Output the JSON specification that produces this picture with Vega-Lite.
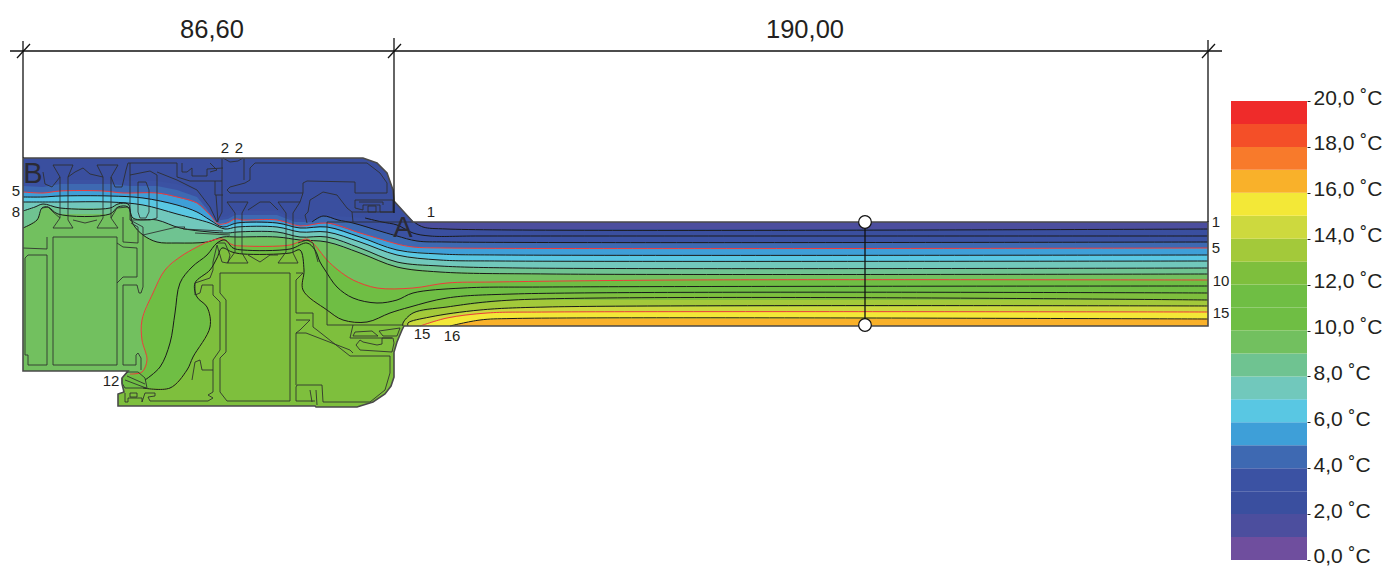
{"$schema":"https://vega.github.io/schema/vega-lite/v6.json","width":1385,"height":568,"autosize":{"type":"fit","contains":"padding"},"padding":0,"background":"white","view":{"stroke":null},"config":{"font":"Liberation Sans"},
"datasets":{
"base":[{"t":1,"x":0,"y":-64},{"t":1,"x":340,"y":-64},{"t":1,"x":354,"y":-59},{"t":1,"x":364,"y":-49},{"t":1,"x":370,"y":-32},{"t":1,"x":371,"y":-21},{"t":1,"x":390,"y":0},{"t":1,"x":1185,"y":0},{"t":1,"x":1185,"y":208},{"t":1,"x":0,"y":208}],
"iso":[
{"t":2,"v":0,"x":0,"y":-64},{"t":2,"v":0,"x":340,"y":-64},{"t":2,"v":0,"x":354,"y":-59},{"t":2,"v":0,"x":364,"y":-49},{"t":2,"v":0,"x":370,"y":-32},{"t":2,"v":0,"x":371,"y":-21},{"t":2,"x":391,"y":0},{"t":2,"x":400,"y":5},{"t":2,"x":424,"y":7},{"t":2,"x":1185,"y":7},{"t":2,"v":0,"x":1185,"y":208},{"t":2,"v":0,"x":0,"y":208},
{"t":3,"v":0,"x":0,"y":-42},{"t":3,"v":0,"x":37,"y":-42},{"t":3,"v":0,"x":87,"y":-42},{"t":3,"v":0,"x":134,"y":-41},{"t":3,"v":0,"x":154,"y":-38},{"t":3,"v":0,"x":174,"y":-32},{"t":3,"v":0,"x":184,"y":-18},{"t":3,"v":0,"x":192,"y":-4},{"t":3,"v":0,"x":205,"y":-6},{"t":3,"v":0,"x":212,"y":-11},{"t":3,"v":0,"x":254,"y":-11},{"t":3,"v":0,"x":267,"y":-4},{"t":3,"v":0,"x":289,"y":-2},{"t":3,"v":0,"x":300,"y":-8},{"t":3,"v":0,"x":315,"y":-6},{"t":3,"x":342,"y":-4},{"t":3,"x":359,"y":0},{"t":3,"x":374,"y":3},{"t":3,"x":390,"y":11},{"t":3,"x":407,"y":14},{"t":3,"x":457,"y":14},{"t":3,"x":1185,"y":14},{"t":3,"v":0,"x":1185,"y":208},{"t":3,"v":0,"x":0,"y":208},
{"t":4,"v":0,"x":0,"y":-36},{"t":4,"v":0,"x":20,"y":-35},{"t":4,"v":0,"x":37,"y":-38},{"t":4,"v":0,"x":87,"y":-38},{"t":4,"v":0,"x":107,"y":-36},{"t":4,"v":0,"x":134,"y":-36},{"t":4,"v":0,"x":154,"y":-32},{"t":4,"v":0,"x":174,"y":-25},{"t":4,"v":0,"x":184,"y":-13},{"t":4,"v":0,"x":192,"y":-1},{"t":4,"v":0,"x":205,"y":-3},{"t":4,"v":0,"x":212,"y":-7},{"t":4,"v":0,"x":254,"y":-7},{"t":4,"v":0,"x":272,"y":0},{"t":4,"x":289,"y":0},{"t":4,"x":300,"y":-6},{"t":4,"x":315,"y":-2},{"t":4,"x":330,"y":1},{"t":4,"x":360,"y":10},{"t":4,"x":374,"y":14},{"t":4,"x":394,"y":19},{"t":4,"x":424,"y":20},{"t":4,"x":1185,"y":20},{"t":4,"v":0,"x":1185,"y":208},{"t":4,"v":0,"x":0,"y":208},
{"t":5,"x":0,"y":-30},{"t":5,"x":20,"y":-29},{"t":5,"x":37,"y":-31},{"t":5,"x":80,"y":-31},{"t":5,"x":100,"y":-29},{"t":5,"x":134,"y":-29},{"t":5,"x":154,"y":-25},{"t":5,"x":174,"y":-19},{"t":5,"x":187,"y":-7},{"t":5,"x":195,"y":2},{"t":5,"x":204,"y":1},{"t":5,"x":212,"y":-3},{"t":5,"x":220,"y":-2},{"t":5,"x":254,"y":-2},{"t":5,"x":277,"y":4},{"t":5,"x":304,"y":1},{"t":5,"x":337,"y":11},{"t":5,"x":357,"y":17},{"t":5,"x":374,"y":22},{"t":5,"x":390,"y":25},{"t":5,"x":424,"y":26},{"t":5,"x":1185,"y":26},{"t":5,"v":0,"x":1185,"y":208},{"t":5,"v":0,"x":0,"y":208},
{"t":6,"x":0,"y":-25},{"t":6,"x":20,"y":-25},{"t":6,"x":37,"y":-26},{"t":6,"x":87,"y":-26},{"t":6,"x":120,"y":-24},{"t":6,"x":154,"y":-17},{"t":6,"x":174,"y":-10},{"t":6,"x":187,"y":-2},{"t":6,"x":200,"y":5},{"t":6,"x":214,"y":1},{"t":6,"x":254,"y":1},{"t":6,"x":277,"y":6},{"t":6,"x":304,"y":5},{"t":6,"x":337,"y":15},{"t":6,"x":374,"y":28},{"t":6,"x":417,"y":32},{"t":6,"x":477,"y":33},{"t":6,"x":1185,"y":33},{"t":6,"v":0,"x":1185,"y":208},{"t":6,"v":0,"x":0,"y":208},
{"t":7,"x":0,"y":-20},{"t":7,"x":37,"y":-20},{"t":7,"x":87,"y":-20},{"t":7,"x":120,"y":-17},{"t":7,"x":154,"y":-8},{"t":7,"x":187,"y":1},{"t":7,"x":202,"y":7},{"t":7,"x":214,"y":5},{"t":7,"x":254,"y":5},{"t":7,"x":277,"y":10},{"t":7,"x":304,"y":10},{"t":7,"x":337,"y":20},{"t":7,"x":374,"y":33},{"t":7,"x":417,"y":38},{"t":7,"x":477,"y":39},{"t":7,"x":1185,"y":39},{"t":7,"v":0,"x":1185,"y":208},{"t":7,"v":0,"x":0,"y":208},
{"t":8,"x":0,"y":-11},{"t":8,"x":12,"y":-15},{"t":8,"x":20,"y":-18},{"t":8,"x":37,"y":-14},{"t":8,"x":87,"y":-14},{"t":8,"x":95,"y":-18},{"t":8,"x":105,"y":-18},{"t":8,"x":110,"y":-4},{"t":8,"x":134,"y":-2},{"t":8,"x":157,"y":6},{"t":8,"x":187,"y":10},{"t":8,"x":205,"y":11},{"t":8,"x":214,"y":10},{"t":8,"x":254,"y":10},{"t":8,"x":277,"y":15},{"t":8,"x":304,"y":15},{"t":8,"x":337,"y":26},{"t":8,"x":374,"y":40},{"t":8,"x":417,"y":44},{"t":8,"x":497,"y":46},{"t":8,"x":1185,"y":46},{"t":8,"v":0,"x":1185,"y":208},{"t":8,"v":0,"x":0,"y":208},
{"t":9,"x":0,"y":6},{"t":9,"x":14,"y":-2},{"t":9,"x":19,"y":-14},{"t":9,"x":25,"y":-15},{"t":9,"x":35,"y":-8},{"t":9,"x":87,"y":-8},{"t":9,"x":95,"y":-15},{"t":9,"x":105,"y":-15},{"t":9,"x":110,"y":2},{"t":9,"x":120,"y":13},{"t":9,"x":134,"y":20},{"t":9,"x":154,"y":21},{"t":9,"x":184,"y":20},{"t":9,"x":200,"y":15},{"t":9,"x":214,"y":15},{"t":9,"x":254,"y":15},{"t":9,"x":277,"y":18},{"t":9,"x":304,"y":20},{"t":9,"x":337,"y":31},{"t":9,"x":374,"y":45},{"t":9,"x":417,"y":50},{"t":9,"x":527,"y":52},{"t":9,"x":1185,"y":52},{"t":9,"v":0,"x":1185,"y":208},{"t":9,"v":0,"x":0,"y":208},
{"t":10,"x":107,"y":152},{"t":10,"x":119,"y":150},{"t":10,"x":124,"y":138},{"t":10,"x":119,"y":118},{"t":10,"x":119,"y":98},{"t":10,"x":130,"y":71},{"t":10,"x":142,"y":48},{"t":10,"x":157,"y":35},{"t":10,"x":174,"y":25},{"t":10,"x":187,"y":19},{"t":10,"x":199,"y":17},{"t":10,"x":210,"y":23},{"t":10,"x":220,"y":24},{"t":10,"x":267,"y":23},{"t":10,"x":284,"y":17},{"t":10,"x":290,"y":21},{"t":10,"x":304,"y":38},{"t":10,"x":315,"y":48},{"t":10,"x":330,"y":58},{"t":10,"x":354,"y":66},{"t":10,"x":390,"y":66},{"t":10,"x":424,"y":61},{"t":10,"x":470,"y":60},{"t":10,"x":657,"y":58},{"t":10,"x":1185,"y":58},{"t":10,"v":0,"x":1185,"y":208},{"t":10,"v":0,"x":77,"y":208},{"t":10,"v":0,"x":77,"y":154},
{"t":11,"x":122,"y":158},{"t":11,"x":137,"y":145},{"t":11,"x":147,"y":121},{"t":11,"x":152,"y":91},{"t":11,"x":157,"y":61},{"t":11,"x":169,"y":45},{"t":11,"x":184,"y":33},{"t":11,"x":194,"y":21},{"t":11,"x":202,"y":18},{"t":11,"x":210,"y":26},{"t":11,"x":220,"y":28},{"t":11,"x":267,"y":27},{"t":11,"x":284,"y":21},{"t":11,"x":292,"y":28},{"t":11,"x":297,"y":40},{"t":11,"x":302,"y":48},{"t":11,"x":314,"y":65},{"t":11,"x":330,"y":76},{"t":11,"x":354,"y":81},{"t":11,"x":374,"y":78},{"t":11,"x":390,"y":71},{"t":11,"x":440,"y":66},{"t":11,"x":524,"y":65},{"t":11,"x":1185,"y":64},{"t":11,"v":0,"x":1185,"y":208},{"t":11,"v":0,"x":77,"y":208},{"t":11,"v":0,"x":77,"y":160},
{"t":12,"x":120,"y":166},{"t":12,"x":147,"y":166},{"t":12,"x":164,"y":148},{"t":12,"x":170,"y":135},{"t":12,"x":187,"y":105},{"t":12,"x":184,"y":85},{"t":12,"x":174,"y":75},{"t":12,"x":172,"y":61},{"t":12,"x":187,"y":48},{"t":12,"x":194,"y":36},{"t":12,"x":199,"y":26},{"t":12,"x":209,"y":30},{"t":12,"x":220,"y":32},{"t":12,"x":267,"y":31},{"t":12,"x":277,"y":28},{"t":12,"x":281,"y":48},{"t":12,"x":280,"y":68},{"t":12,"x":304,"y":88},{"t":12,"x":320,"y":98},{"t":12,"x":344,"y":100},{"t":12,"x":367,"y":91},{"t":12,"x":387,"y":85},{"t":12,"x":424,"y":76},{"t":12,"x":490,"y":72},{"t":12,"x":1185,"y":71},{"t":12,"v":0,"x":1185,"y":208},{"t":12,"v":0,"x":77,"y":208},{"t":12,"v":0,"x":77,"y":168},
{"t":13,"x":380,"y":104},{"t":13,"x":380,"y":101},{"t":13,"x":390,"y":91},{"t":13,"x":424,"y":85},{"t":13,"x":490,"y":78},{"t":13,"x":1185,"y":78},{"t":13,"v":0,"x":1185,"y":104},
{"t":14,"x":385,"y":104},{"t":14,"x":385,"y":101},{"t":14,"x":407,"y":95},{"t":14,"x":457,"y":88},{"t":14,"x":524,"y":85},{"t":14,"x":1185,"y":84},{"t":14,"v":0,"x":1185,"y":104},
{"t":15,"x":397,"y":104},{"t":15,"x":424,"y":96},{"t":15,"x":464,"y":91},{"t":15,"x":524,"y":90},{"t":15,"x":1185,"y":90},{"t":15,"v":0,"x":1185,"y":104},
{"t":16,"x":427,"y":104},{"t":16,"x":457,"y":98},{"t":16,"x":490,"y":96.5},{"t":16,"x":1185,"y":97},{"t":16,"v":0,"x":1185,"y":104}
],
"mask":[{"x":1185,"y":104},{"x":381,"y":104},{"x":379,"y":108},{"x":374,"y":120},{"x":371,"y":130},{"x":371,"y":155},{"x":368,"y":164},{"x":362,"y":172},{"x":350,"y":180},{"x":334,"y":185},{"x":293,"y":185},{"x":292,"y":184},{"x":95,"y":184},{"x":95,"y":172},{"x":101,"y":170},{"x":99,"y":162},{"x":99,"y":156},{"x":105,"y":149},{"x":0,"y":149},{"x":0,"y":-72},{"x":-8,"y":-72},{"x":-8,"y":218},{"x":1202,"y":218},{"x":1202,"y":-7},{"x":1185,"y":-7}],
"outline":[{"x":0,"y":-64},{"x":340,"y":-64},{"x":354,"y":-59},{"x":364,"y":-49},{"x":370,"y":-32},{"x":371,"y":-21},{"x":390,"y":0},{"x":1185,"y":0},{"x":1185,"y":104},{"x":381,"y":104},{"x":379,"y":108},{"x":374,"y":120},{"x":371,"y":130},{"x":371,"y":155},{"x":368,"y":164},{"x":362,"y":172},{"x":350,"y":180},{"x":334,"y":185},{"x":293,"y":185},{"x":292,"y":184},{"x":95,"y":184},{"x":95,"y":172},{"x":101,"y":170},{"x":99,"y":162},{"x":99,"y":156},{"x":105,"y":149},{"x":0,"y":149},{"x":0,"y":-64}],
"prof":[
{"s":"a1","x":30,"y":-57},{"s":"a1","x":50,"y":-57},{"s":"a1","x":45,"y":-45},{"s":"a1","x":45,"y":-2},{"s":"a1","x":50,"y":6},{"s":"a1","x":30,"y":6},{"s":"a1","x":37,"y":-4},{"s":"a1","x":37,"y":-45},{"s":"a1","x":30,"y":-57},
{"s":"a2","x":74,"y":-57},{"s":"a2","x":95,"y":-57},{"s":"a2","x":88,"y":-45},{"s":"a2","x":88,"y":-4},{"s":"a2","x":95,"y":6},{"s":"a2","x":74,"y":6},{"s":"a2","x":80,"y":-4},{"s":"a2","x":80,"y":-45},{"s":"a2","x":74,"y":-57},
{"s":"a3","x":20,"y":-50},{"s":"a3","x":22,"y":-38},{"s":"a3","x":29,"y":-35},{"s":"a3","x":37,"y":-45},
{"s":"a4","x":45,"y":-45},{"s":"a4","x":52,"y":-50},{"s":"a4","x":60,"y":-54},{"s":"a4","x":67,"y":-48},{"s":"a4","x":80,"y":-45},
{"s":"a5","x":88,"y":-45},{"s":"a5","x":92,"y":-35},{"s":"a5","x":99,"y":-35},{"s":"a5","x":103,"y":-52},{"s":"a5","x":105,"y":-59},{"s":"a5","x":117,"y":-59},{"s":"a5","x":120,"y":-59},{"s":"a5","x":154,"y":-59},{"s":"a5","x":154,"y":-45},
{"s":"a6","x":107,"y":-59},{"s":"a6","x":107,"y":-2},{"s":"a6","x":120,"y":5},
{"s":"a7","x":107,"y":-47},{"s":"a7","x":127,"y":-51},{"s":"a7","x":134,"y":-47},{"s":"a7","x":134,"y":-4},{"s":"a7","x":127,"y":-2},{"s":"a7","x":107,"y":-2},
{"s":"a8","x":115,"y":-40},{"s":"a8","x":123,"y":-40},{"s":"a8","x":126,"y":-32},{"s":"a8","x":126,"y":-10},{"s":"a8","x":123,"y":-4},{"s":"a8","x":117,"y":-4},{"s":"a8","x":115,"y":-10},{"s":"a8","x":115,"y":-40},
{"s":"a9","x":50,"y":-2},{"s":"a9","x":62,"y":1},{"s":"a9","x":74,"y":-2},
{"s":"b1","x":19,"y":-14},{"s":"b1","x":25,"y":-15},{"s":"b1","x":30,"y":-10},{"s":"b1","x":37,"y":-4},
{"s":"b2","x":88,"y":-4},{"s":"b2","x":94,"y":-14},{"s":"b2","x":105,"y":-15},{"s":"b2","x":107,"y":-12},
{"s":"b3","x":0,"y":26},{"s":"b3","x":24,"y":27},{"s":"b3","x":24,"y":15},
{"s":"b4","x":5,"y":33},{"s":"b4","x":24,"y":33},{"s":"b4","x":24,"y":143},{"s":"b4","x":5,"y":143},{"s":"b4","x":5,"y":133},{"s":"b4","x":2,"y":133},{"s":"b4","x":2,"y":36},{"s":"b4","x":5,"y":33},
{"s":"b5","x":30,"y":15},{"s":"b5","x":94,"y":15},{"s":"b5","x":94,"y":143},{"s":"b5","x":30,"y":143},{"s":"b5","x":30,"y":15},
{"s":"b6","x":94,"y":21},{"s":"b6","x":100,"y":25},{"s":"b6","x":114,"y":26},{"s":"b6","x":114,"y":55},{"s":"b6","x":100,"y":55},{"s":"b6","x":94,"y":61},
{"s":"b7","x":100,"y":-5},{"s":"b7","x":100,"y":20},{"s":"b7","x":115,"y":21},{"s":"b7","x":115,"y":5},{"s":"b7","x":108,"y":1},
{"s":"b8","x":120,"y":5},{"s":"b8","x":120,"y":65},{"s":"b8","x":118,"y":71},{"s":"b8","x":116,"y":71},{"s":"b8","x":114,"y":63},{"s":"b8","x":100,"y":63},{"s":"b8","x":100,"y":143},{"s":"b8","x":113,"y":143},{"s":"b8","x":113,"y":133},{"s":"b8","x":115,"y":131},{"s":"b8","x":118,"y":136},{"s":"b8","x":118,"y":148},
{"s":"c1","x":99,"y":156},{"s":"c1","x":105,"y":150},{"s":"c1","x":115,"y":150},{"s":"c1","x":122,"y":156},{"s":"c1","x":124,"y":166},{"s":"c1","x":102,"y":166},{"s":"c1","x":99,"y":161},{"s":"c1","x":99,"y":156},
{"s":"c2","x":102,"y":158},{"s":"c2","x":123,"y":166},
{"s":"c3","x":104,"y":154},{"s":"c3","x":122,"y":162},
{"s":"c4","x":102,"y":171},{"s":"c4","x":102,"y":180},{"s":"c4","x":105,"y":180},{"s":"c4","x":105,"y":176},{"s":"c4","x":119,"y":176},{"s":"c4","x":119,"y":180},{"s":"c4","x":122,"y":171},{"s":"c4","x":132,"y":171},{"s":"c4","x":132,"y":174},{"s":"c4","x":125,"y":175},{"s":"c4","x":127,"y":179},{"s":"c4","x":185,"y":179},{"s":"c4","x":190,"y":176},{"s":"c4","x":185,"y":173},{"s":"c4","x":190,"y":170},{"s":"c4","x":190,"y":148},
{"s":"c5","x":107,"y":171},{"s":"c5","x":114,"y":171},{"s":"c5","x":114,"y":175},{"s":"c5","x":107,"y":175},{"s":"c5","x":107,"y":171},
{"s":"c6","x":172,"y":61},{"s":"c6","x":172,"y":73},{"s":"c6","x":177,"y":71},{"s":"c6","x":179,"y":63},{"s":"c6","x":190,"y":63},{"s":"c6","x":190,"y":73},{"s":"c6","x":197,"y":80},{"s":"c6","x":197,"y":128},{"s":"c6","x":190,"y":138},{"s":"c6","x":190,"y":148},{"s":"c6","x":179,"y":148},{"s":"c6","x":177,"y":138},{"s":"c6","x":172,"y":140},{"s":"c6","x":169,"y":158},
{"s":"c7","x":172,"y":61},{"s":"c7","x":187,"y":56},{"s":"c7","x":190,"y":48},{"s":"c7","x":190,"y":40},{"s":"c7","x":194,"y":23},
{"s":"c8","x":197,"y":51},{"s":"c8","x":267,"y":51},{"s":"c8","x":267,"y":179},{"s":"c8","x":204,"y":179},{"s":"c8","x":197,"y":170},{"s":"c8","x":197,"y":136},{"s":"c8","x":203,"y":130},{"s":"c8","x":203,"y":78},{"s":"c8","x":197,"y":71},{"s":"c8","x":197,"y":51},
{"s":"d1","x":273,"y":51},{"s":"d1","x":280,"y":51},{"s":"d1","x":273,"y":58},{"s":"d1","x":273,"y":91},{"s":"d1","x":290,"y":91},{"s":"d1","x":290,"y":105},{"s":"d1","x":294,"y":108},{"s":"d1","x":327,"y":134},{"s":"d1","x":367,"y":134},{"s":"d1","x":367,"y":151},{"s":"d1","x":362,"y":168},{"s":"d1","x":347,"y":180},{"s":"d1","x":300,"y":180},{"s":"d1","x":299,"y":163},{"s":"d1","x":274,"y":163},{"s":"d1","x":273,"y":165},{"s":"d1","x":273,"y":179},{"s":"d1","x":292,"y":179},
{"s":"d2","x":273,"y":98},{"s":"d2","x":287,"y":98},{"s":"d2","x":277,"y":108},{"s":"d2","x":273,"y":111},{"s":"d2","x":273,"y":163},
{"s":"d3","x":273,"y":111},{"s":"d3","x":283,"y":111},{"s":"d3","x":327,"y":128},{"s":"d3","x":330,"y":131},
{"s":"d4","x":287,"y":168},{"s":"d4","x":289,"y":180},
{"s":"d5","x":293,"y":168},{"s":"d5","x":294,"y":183},
{"s":"d6","x":332,"y":110},{"s":"d6","x":349,"y":109},{"s":"d6","x":355,"y":114},{"s":"d6","x":330,"y":114},{"s":"d6","x":332,"y":110},
{"s":"d7","x":356,"y":109},{"s":"d7","x":377,"y":106},{"s":"d7","x":374,"y":114},{"s":"d7","x":360,"y":114},{"s":"d7","x":356,"y":109},
{"s":"d8","x":330,"y":103},{"s":"d8","x":327,"y":116},{"s":"d8","x":369,"y":116},
{"s":"d9","x":333,"y":123},{"s":"d9","x":337,"y":128},{"s":"d9","x":369,"y":130},{"s":"d9","x":371,"y":121},{"s":"d9","x":370,"y":116},{"s":"d9","x":359,"y":116},{"s":"d9","x":359,"y":122},{"s":"d9","x":354,"y":123},{"s":"d9","x":340,"y":120},{"s":"d9","x":337,"y":118},{"s":"d9","x":333,"y":123},
{"s":"e1","x":390,"y":0},{"s":"e1","x":304,"y":0},{"s":"e1","x":304,"y":103},{"s":"e1","x":380,"y":103},
{"s":"e2","x":204,"y":-20},{"s":"e2","x":225,"y":-20},{"s":"e2","x":219,"y":-9},{"s":"e2","x":219,"y":31},{"s":"e2","x":225,"y":41},{"s":"e2","x":204,"y":41},{"s":"e2","x":212,"y":30},{"s":"e2","x":212,"y":-9},{"s":"e2","x":204,"y":-20},
{"s":"e3","x":255,"y":-20},{"s":"e3","x":277,"y":-20},{"s":"e3","x":270,"y":-9},{"s":"e3","x":270,"y":31},{"s":"e3","x":275,"y":41},{"s":"e3","x":255,"y":41},{"s":"e3","x":263,"y":30},{"s":"e3","x":263,"y":-9},{"s":"e3","x":255,"y":-20},
{"s":"e4","x":225,"y":-12},{"s":"e4","x":237,"y":-20},{"s":"e4","x":247,"y":-20},{"s":"e4","x":255,"y":-12},
{"s":"e5","x":225,"y":33},{"s":"e5","x":237,"y":40},{"s":"e5","x":247,"y":33},{"s":"e5","x":255,"y":33},
{"s":"e6","x":194,"y":21},{"s":"e6","x":202,"y":21},{"s":"e6","x":207,"y":33},{"s":"e6","x":205,"y":41},
{"s":"e7","x":194,"y":23},{"s":"e7","x":199,"y":40},{"s":"e7","x":204,"y":41},
{"s":"e8","x":275,"y":21},{"s":"e8","x":284,"y":18},{"s":"e8","x":290,"y":21},{"s":"e8","x":295,"y":40},
{"s":"f1","x":222,"y":-29},{"s":"f1","x":280,"y":-29},{"s":"f1","x":280,"y":-39},{"s":"f1","x":284,"y":-41},{"s":"f1","x":332,"y":-40},{"s":"f1","x":332,"y":-29},{"s":"f1","x":364,"y":-29},{"s":"f1","x":364,"y":-39},{"s":"f1","x":357,"y":-49},{"s":"f1","x":344,"y":-59},{"s":"f1","x":232,"y":-59},{"s":"f1","x":227,"y":-54},{"s":"f1","x":227,"y":-42},{"s":"f1","x":222,"y":-39},{"s":"f1","x":207,"y":-35},{"s":"f1","x":204,"y":-32},{"s":"f1","x":207,"y":-29},{"s":"f1","x":222,"y":-29},
{"s":"f2","x":332,"y":-22},{"s":"f2","x":332,"y":-14},{"s":"f2","x":340,"y":-12},{"s":"f2","x":340,"y":-17},{"s":"f2","x":357,"y":-17},{"s":"f2","x":357,"y":-10},{"s":"f2","x":370,"y":-10},{"s":"f2","x":370,"y":-22},{"s":"f2","x":332,"y":-22},
{"s":"f3","x":336,"y":-20},{"s":"f3","x":360,"y":-20},{"s":"f3","x":360,"y":-17},
{"s":"f4","x":345,"y":-16},{"s":"f4","x":353,"y":-16},{"s":"f4","x":353,"y":-10},{"s":"f4","x":345,"y":-10},{"s":"f4","x":345,"y":-16},
{"s":"f5","x":329,"y":-10},{"s":"f5","x":371,"y":-10},
{"s":"f6","x":329,"y":-10},{"s":"f6","x":330,"y":0},
{"s":"f7","x":285,"y":-10},{"s":"f7","x":287,"y":-22},{"s":"f7","x":292,"y":-25},{"s":"f7","x":300,"y":-30},{"s":"f7","x":314,"y":-27},{"s":"f7","x":324,"y":-14},{"s":"f7","x":329,"y":-10},
{"s":"f8","x":285,"y":-10},{"s":"f8","x":282,"y":-7},{"s":"f8","x":284,"y":1},
{"s":"f9","x":280,"y":-29},{"s":"f9","x":277,"y":-20},
{"s":"g1","x":159,"y":-59},{"s":"g1","x":159,"y":-50},{"s":"g1","x":164,"y":-50},{"s":"g1","x":169,"y":-54},{"s":"g1","x":169,"y":-46},{"s":"g1","x":184,"y":-46},{"s":"g1","x":184,"y":-53},{"s":"g1","x":200,"y":-54},
{"s":"g2","x":154,"y":-45},{"s":"g2","x":167,"y":-41},{"s":"g2","x":192,"y":-41},{"s":"g2","x":199,"y":-41},
{"s":"g3","x":192,"y":-41},{"s":"g3","x":192,"y":-27},{"s":"g3","x":200,"y":-27},
{"s":"g4","x":193,"y":-27},{"s":"g4","x":195,"y":0},
{"s":"g5","x":199,"y":-64},{"s":"g5","x":199,"y":-10},{"s":"g5","x":194,"y":0},
{"s":"g6","x":221,"y":-64},{"s":"g6","x":221,"y":-42},
{"s":"g7","x":200,"y":-64},{"s":"g7","x":207,"y":-60},{"s":"g7","x":215,"y":-61},{"s":"g7","x":220,"y":-64},
{"s":"g8","x":187,"y":-59},{"s":"g8","x":194,"y":-52},{"s":"g8","x":187,"y":-50},
{"s":"g9","x":120,"y":13},{"s":"g9","x":154,"y":5},{"s":"g9","x":162,"y":5},{"s":"g9","x":160,"y":7},{"s":"g9","x":200,"y":9},
{"s":"h1","x":172,"y":11},{"s":"h1","x":207,"y":13},
{"s":"h2","x":134,"y":-50},{"s":"h2","x":154,"y":-42},{"s":"h2","x":174,"y":-32},{"s":"h2","x":187,"y":-15},{"s":"h2","x":194,"y":0}
],
"dims":[
{"s":"d1","x":-13,"y":-171},{"s":"d1","x":1199,"y":-171},
{"s":"d2","x":0,"y":-181},{"s":"d2","x":0,"y":-64},
{"s":"d3","x":371,"y":-184},{"s":"d3","x":371,"y":-9},
{"s":"d4","x":1185,"y":-182},{"s":"d4","x":1185,"y":0},
{"s":"d5","x":-6,"y":-164},{"s":"d5","x":7,"y":-178},
{"s":"d6","x":365,"y":-164},{"s":"d6","x":378,"y":-178},
{"s":"d7","x":1179,"y":-164},{"s":"d7","x":1192,"y":-178},
{"s":"d8","x":842,"y":0},{"s":"d8","x":842,"y":103}
],
"legend":[{"t":0,"lo":0,"hi":1},{"t":1,"lo":1,"hi":2},{"t":2,"lo":2,"hi":3},{"t":3,"lo":3,"hi":4},{"t":4,"lo":4,"hi":5},{"t":5,"lo":5,"hi":6},{"t":6,"lo":6,"hi":7},{"t":7,"lo":7,"hi":8},{"t":8,"lo":8,"hi":9},{"t":9,"lo":9,"hi":10},{"t":10,"lo":10,"hi":11},{"t":11,"lo":11,"hi":12},{"t":12,"lo":12,"hi":13},{"t":13,"lo":13,"hi":14},{"t":14,"lo":14,"hi":15},{"t":15,"lo":15,"hi":16},{"t":16,"lo":16,"hi":17},{"t":17,"lo":17,"hi":18},{"t":18,"lo":18,"hi":19},{"t":19,"lo":19,"hi":20}]
},
"layer":[
{"encoding":{"x":{"field":"x","type":"quantitative","scale":{"domain":[-23,1362],"nice":false,"zero":false},"axis":null},"y":{"field":"y","type":"quantitative","scale":{"domain":[346,-222],"nice":false,"zero":false},"axis":null}},
"layer":[
{"data":{"name":"base"},"mark":{"type":"line","strokeWidth":0},"encoding":{"order":{"value":null},"fill":{"field":"t","type":"ordinal","legend":null,"scale":{"domain":[0,1,2,3,4,5,6,7,8,9,10,11,12,13,14,15,16,17,18,19],"range":["#6f4e9e","#4c4e9e","#3a4f9f","#3b52a3","#3e69b2","#3e9fd8","#59c7e3","#71c8bc","#6fc391","#72c05f","#6fbe44","#6fbe44","#7ebf3d","#a3c93a","#cdd93e","#f3e837","#f9b12a","#f87a2b","#f44f28","#ef2b2a"]}}}},
{"data":{"name":"iso"},"mark":{"type":"line","strokeWidth":0},"encoding":{"order":{"value":null},"fill":{"field":"t","type":"ordinal","legend":null}}},
{"data":{"name":"mask"},"mark":{"type":"line","fill":"white","strokeWidth":0},"encoding":{"order":{"value":null}}},
{"data":{"name":"iso"},"transform":[{"filter":"datum.v!==0"}],"mark":{"type":"line","strokeWidth":1,"interpolate":"catmull-rom"},"encoding":{"order":{"value":null},"detail":{"field":"t"},"stroke":{"field":"t","type":"ordinal","legend":null,"scale":{"domain":[2,3,4,5,6,7,8,9,10,11,12,13,14,15,16],"range":["#1a1a1a","#1a1a1a","#1a1a1a","#ef3b3b","#1a1a1a","#1a1a1a","#1a1a1a","#1a1a1a","#ef3b3b","#1a1a1a","#1a1a1a","#1a1a1a","#1a1a1a","#ef3b3b","#1a1a1a"]}}}},
{"data":{"name":"prof"},"mark":{"type":"line","stroke":"#2d2d2d","strokeWidth":1,"opacity":0.85},"encoding":{"order":{"value":null},"detail":{"field":"s"}}},
{"data":{"name":"outline"},"mark":{"type":"line","stroke":"#4a4a4a","strokeWidth":1.6},"encoding":{"order":{"value":null}}},
{"data":{"name":"dims"},"mark":{"type":"line","stroke":"#111111","strokeWidth":1.3},"encoding":{"order":{"value":null},"detail":{"field":"s"}}},
{"data":{"values":[{"x":842,"y":0},{"x":842,"y":103}]},"mark":{"type":"point","filled":true,"fill":"white","stroke":"#111111","strokeWidth":1.2,"size":160,"opacity":1}},
{"data":{"values":[{"x":189,"y":-192,"l":"86,60"},{"x":782,"y":-192,"l":"190,00"}]},"mark":{"type":"text","fontSize":25.5,"font":"Liberation Sans","color":"#231f20","baseline":"middle"},"encoding":{"text":{"field":"l"}}},
{"data":{"values":[{"x":10,"y":-48,"l":"B"},{"x":380,"y":6,"l":"A"}]},"mark":{"type":"text","fontSize":29,"font":"Liberation Sans","color":"#2a2a35","baseline":"middle"},"encoding":{"text":{"field":"l"}}},
{"data":{"values":[{"x":-7,"y":-31,"l":"5"},{"x":-7,"y":-10,"l":"8"},{"x":202,"y":-74,"l":"2"},{"x":216,"y":-74,"l":"2"},{"x":408,"y":-10,"l":"1"},{"x":1193,"y":0,"l":"1"},{"x":1193,"y":26,"l":"5"},{"x":1198,"y":59,"l":"10"},{"x":1198,"y":91,"l":"15"},{"x":399,"y":112,"l":"15"},{"x":429,"y":114,"l":"16"},{"x":88,"y":159,"l":"12"}]},"mark":{"type":"text","fontSize":15,"font":"Liberation Sans","color":"#231f20","baseline":"middle"},"encoding":{"text":{"field":"l"}}}
]},
{"data":{"name":"legend"},"mark":{"type":"bar"},"encoding":{
"x":{"datum":1208,"type":"quantitative","scale":{"domain":[-23,1362],"nice":false,"zero":false},"axis":null},"x2":{"datum":1284},
"y":{"field":"lo","type":"quantitative","scale":{"domain":[-0.3486,24.4009],"nice":false,"zero":false},"axis":{"orient":"right","offset":-78,"values":[0,2,4,6,8,10,12,14,16,18,20],"labelExpr":"replace(format(datum.value,'.1f'),'.',',')+' ˚C'","domain":false,"grid":false,"title":null,"tickSize":3,"tickColor":"#222222","labelFont":"Liberation Sans","labelFontSize":21,"labelColor":"#231f20","labelPadding":3,"labelOffset":-3,"labelOverlap":false}},"y2":{"field":"hi"},
"fill":{"field":"t","type":"ordinal","legend":null}}}
],
"resolve":{"scale":{"y":"independent"},"axis":{"y":"independent"}}}
